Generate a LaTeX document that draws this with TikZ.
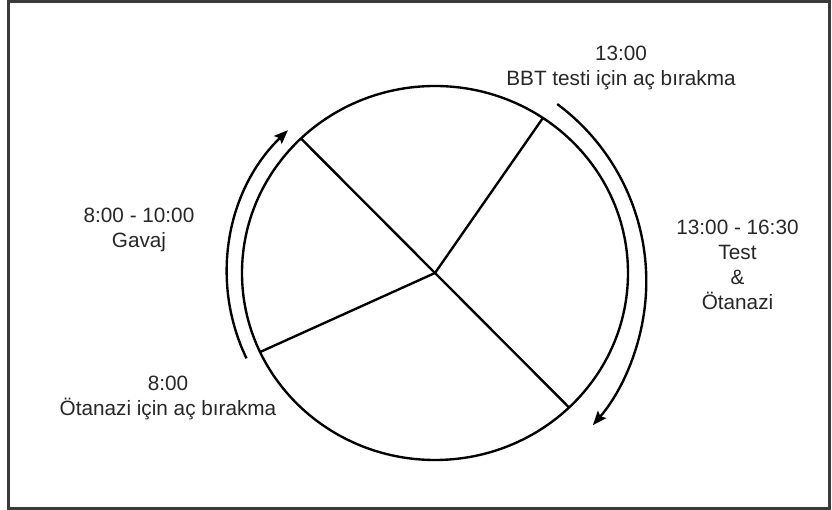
\documentclass[tikz,border=0pt]{standalone}
\usepackage{fontspec}
\setmainfont{Liberation Sans}
\usepackage{xcolor}
\usepackage{tikz}
\usetikzlibrary{arrows.meta,calc}
\definecolor{inkgray}{HTML}{262626}
\definecolor{framegray}{HTML}{3A3A3A}

\begin{document}
\begin{tikzpicture}[x=0.02cm,y=0.02cm,
  font=\fontsize{11.8pt}{14.2pt}\selectfont,
  every node/.style={text=inkgray, align=center, inner sep=0pt},
  dialline/.style={line width=1.35pt, black},
  turnarrow/.style={line width=1.35pt, black, -{Stealth[length=0.28cm,width=0.22cm,inset=0.05cm]}}]
\useasboundingbox (0,0) rectangle (832,510);
\fill[white] (0,0) rectangle (832,510);
\draw[framegray, line width=1.6pt] (8.5,1.5) rectangle (829.5,508.5);
% the day as a dial
\coordinate (hub) at (435,237);
\draw[dialline] (hub) ellipse[x radius=193, y radius=187];
\foreach \a/\n in {134/ul, 56/ur, 205/ll, 314/lr}{
  \path (hub) ++(\a:193 and 187) coordinate (s\n);
  \draw[dialline] (hub) -- (s\n);
}
% direction of the day
\draw[turnarrow] (hub) ++(205:208 and 202) arc[start angle=205, end angle=135, x radius=208, y radius=202];
\coordinate (rc) at (425.6,228.8);
\draw[turnarrow] (rc) ++(53.4:220.7) arc[start angle=53.4, end angle=-40.7, radius=220.7];
% labels
\node (tbbt) at (621,442.5) {13:00\\BBT testi için aç bırakma};
\node (tgavaj) at (139,280.5) {8:00 - 10:00\\Gavaj};
\node (ttest) at (737.5,245) {13:00 - 16:30\\Test\\\&\\Ötanazi};
\node (tfast) at (168,112.5) {8:00\\Ötanazi için aç bırakma};
\end{tikzpicture}
\end{document}
